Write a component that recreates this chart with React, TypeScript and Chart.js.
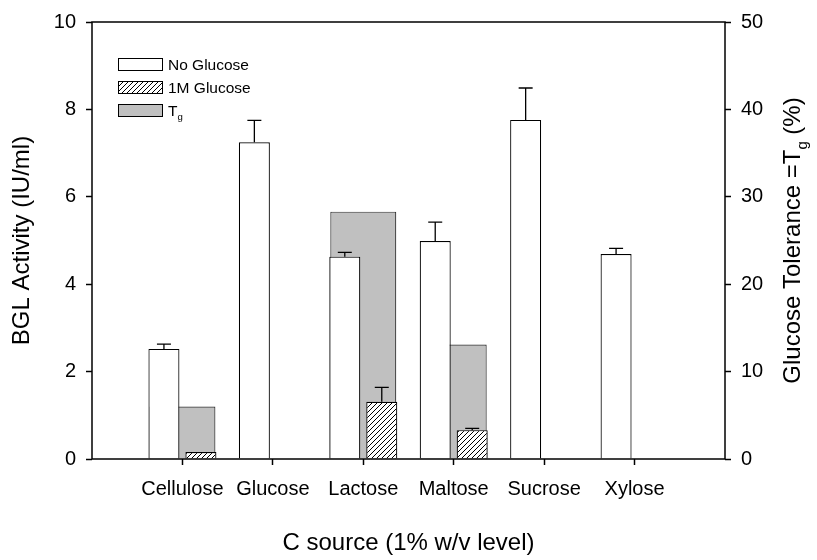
import React, { useEffect, useRef } from 'react';
import { Chart, registerables } from 'chart.js';

Chart.register(...registerables);

const categories = ['Cellulose', 'Glucose', 'Lactose', 'Maltose', 'Sucrose', 'Xylose'];
const noGlucose = [2.52, 7.25, 4.63, 4.99, 7.76, 4.69];
const noGlucoseErr = [0.11, 0.5, 0.1, 0.43, 0.73, 0.13];
const glucose1M = [0.16, null, 1.31, 0.66, null, null];
const glucose1MErr = [0, null, 0.33, 0.04, null, null];
const tg = [6.0, null, 28.3, 13.1, null, null];
const seriesNames = ['No Glucose', '1M Glucose', 'T_g'];
const leftTicks = [0, 2, 4, 6, 8, 10];
const rightTicks = [0, 10, 20, 30, 40, 50];
const xTitle = 'C source (1% w/v level)';
const leftTitle = 'BGL Activity (IU/ml)';
const rightTitle = 'Glucose Tolerance =T_g (%)';

const FONT = '"Liberation Sans", Arial, Helvetica, sans-serif';
const GRAY = '#c0c0c0';

const xLabels = ['', ...categories, ''];
const pad = (a: (number | null)[]) => [null, ...a, null];
const asPoints = (a: (number | null)[]) => a.map((v, i) => ({ x: i, y: v }));
const catIdx = categories.map((_, i) => ({ value: i }));

// side offset of the paired bars, in category units
const SHIFT = 0.2045;

function makeHatch(ctx: CanvasRenderingContext2D) {
  const s = 5;
  const c = document.createElement('canvas');
  c.width = s;
  c.height = s;
  const g = c.getContext('2d')!;
  g.fillStyle = '#fff';
  g.fillRect(0, 0, s, s);
  g.strokeStyle = '#000';
  g.lineWidth = 1;
  g.beginPath();
  g.moveTo(-1, s + 1);
  g.lineTo(s + 1, -1);
  g.moveTo(-1, 1);
  g.lineTo(1, -1);
  g.moveTo(s - 1, s + 1);
  g.lineTo(s + 1, s - 1);
  g.stroke();
  return ctx.createPattern(c, 'repeat')!;
}

function parts(text: string) {
  const out: { t: string; sub: boolean }[] = [];
  let buf = '';
  let i = 0;
  while (i < text.length) {
    if (text[i] === '_' && i + 1 < text.length) {
      if (buf) out.push({ t: buf, sub: false });
      buf = '';
      out.push({ t: text[i + 1], sub: true });
      i += 2;
    } else {
      buf += text[i];
      i++;
    }
  }
  if (buf) out.push({ t: buf, sub: false });
  return out;
}

function drawRich(ctx: CanvasRenderingContext2D, text: string, x: number, y: number, size: number, align: 'left' | 'center') {
  const ps = parts(text);
  const subSize = size * 0.62;
  const widths = ps.map((p) => {
    ctx.font = `${p.sub ? subSize : size}px ${FONT}`;
    return ctx.measureText(p.t).width;
  });
  const total = widths.reduce((s, w) => s + w, 0);
  let cx = align === 'center' ? x - total / 2 : x;
  ctx.textAlign = 'left';
  ctx.textBaseline = 'alphabetic';
  ctx.fillStyle = '#000';
  ps.forEach((p, i) => {
    ctx.font = `${p.sub ? subSize : size}px ${FONT}`;
    ctx.fillText(p.t, cx, p.sub ? y + size * 0.28 : y);
    cx += widths[i];
  });
}

export default function App() {
  const ref = useRef<HTMLCanvasElement>(null);

  useEffect(() => {
    const canvas = ref.current!;
    const ctx0 = canvas.getContext('2d')!;
    const hatch = makeHatch(ctx0);
    const fills = ['#fff', hatch, GRAY];

    const overlay = {
      id: 'overlay',
      afterDatasetsDraw(chart: any) {
        const { ctx, chartArea: a } = chart;
        ctx.save();
        ctx.strokeStyle = '#000';
        ctx.lineWidth = 1.3;
        const vals = [noGlucose, glucose1M];
        const errs = [noGlucoseErr, glucose1MErr];
        [0, 1].forEach((di) => {
          const meta = chart.getDatasetMeta(di);
          const ys = chart.scales[meta.yAxisID];
          errs[di].forEach((e, i) => {
            const v = vals[di][i];
            if (v == null || !e) return;
            const el = meta.data[i];
            const x = el.x;
            const y0 = el.y;
            const y1 = ys.getPixelForValue(v + e);
            ctx.beginPath();
            ctx.moveTo(x, y0);
            ctx.lineTo(x, y1);
            ctx.moveTo(x - 7, y1);
            ctx.lineTo(x + 7, y1);
            ctx.stroke();
          });
        });
        // frame
        ctx.lineWidth = 1.5;
        ctx.strokeRect(a.left, a.top, a.right - a.left, a.bottom - a.top);

        // legend
        const bx = a.left + 26;
        const bw = 44;
        const bh = 12;
        seriesNames.forEach((name, i) => {
          const top = a.top + 36 + i * 23;
          ctx.fillStyle = fills[i];
          ctx.fillRect(bx, top, bw, bh);
          ctx.lineWidth = 1;
          ctx.strokeStyle = '#000';
          ctx.strokeRect(bx + 0.5, top + 0.5, bw, bh);
          drawRich(ctx, name, bx + bw + 6, top + bh / 2 + 5.5, 15.5, 'left');
        });

        // right title
        ctx.save();
        ctx.translate(800, (a.top + a.bottom) / 2);
        ctx.rotate(-Math.PI / 2);
        drawRich(ctx, rightTitle, 0, 0, 24, 'center');
        ctx.restore();
        ctx.restore();
      },
    };

    const tickColor = (c: any) => (c.index === 0 || c.index === xLabels.length - 1 ? 'rgba(0,0,0,0)' : '#000');
    const setCatTicks = (s: any) => {
      s.ticks = catIdx.map((t) => ({ ...t }));
    };

    const chart = new Chart(canvas, {
      type: 'bar',
      data: {
        labels: xLabels,
        datasets: [
          {
            label: seriesNames[0],
            data: asPoints(noGlucose),
            backgroundColor: '#fff',
            borderColor: '#000',
            borderWidth: 1.2,
            xAxisID: 'xw',
            yAxisID: 'y',
            order: 0,
            grouped: false,
            categoryPercentage: 1,
            barPercentage: 0.343,
          },
          {
            label: seriesNames[1],
            data: asPoints(glucose1M),
            backgroundColor: hatch as any,
            borderColor: '#000',
            borderWidth: 1.2,
            xAxisID: 'xh',
            yAxisID: 'y',
            order: 1,
            grouped: false,
            categoryPercentage: 1,
            barPercentage: 0.343,
          },
          {
            label: seriesNames[2],
            data: pad(tg),
            backgroundColor: GRAY,
            borderColor: '#333',
            borderWidth: 1.2,
            xAxisID: 'x2',
            yAxisID: 'y2',
            order: 2,
            grouped: false,
            categoryPercentage: 0.73,
            barPercentage: 1,
          },
        ],
      } as any,
      options: {
        responsive: false,
        animation: false,
        layout: { padding: { top: 16, left: 0, right: 0, bottom: 0 } },
        plugins: { legend: { display: false }, tooltip: { enabled: false } },
        scales: {
          x: {
            type: 'category',
            labels: xLabels,
            offset: false,
            position: 'bottom',
            grid: { offset: false, drawOnChartArea: false, drawTicks: true, tickLength: 6, tickWidth: 1.5, color: tickColor },
            border: { display: false },
            ticks: { autoSkip: false, maxRotation: 0, minRotation: 0, padding: 12, color: '#000', font: { family: FONT, size: 20 } },
            title: { display: true, text: xTitle, color: '#000', font: { family: FONT, size: 24 }, padding: { top: 0, bottom: 2 } },
            afterFit: (s: any) => {
              s.height = 101;
            },
          },
          x2: {
            type: 'category',
            labels: xLabels,
            offset: false,
            display: false,
            grid: { offset: false },
          },
          xw: {
            type: 'linear',
            position: 'bottom',
            min: -1 + SHIFT,
            max: categories.length + SHIFT,
            offset: false,
            display: false,
            afterBuildTicks: setCatTicks,
          },
          xh: {
            type: 'linear',
            position: 'bottom',
            min: -1 - SHIFT,
            max: categories.length - SHIFT,
            offset: false,
            display: false,
            afterBuildTicks: setCatTicks,
          },
          y: {
            type: 'linear',
            position: 'left',
            min: 0,
            max: 10,
            afterBuildTicks: (s: any) => {
              s.ticks = leftTicks.map((v) => ({ value: v }));
            },
            grid: { drawOnChartArea: false, tickLength: 6, tickWidth: 1.5, color: '#000' },
            border: { display: false },
            ticks: { padding: 10, color: '#000', font: { family: FONT, size: 20 } },
            title: { display: true, text: leftTitle, color: '#000', font: { family: FONT, size: 24 }, padding: { top: 8, bottom: 0 } },
            afterFit: (s: any) => {
              s.width = 92;
            },
          },
          y2: {
            type: 'linear',
            position: 'right',
            min: 0,
            max: 50,
            afterBuildTicks: (s: any) => {
              s.ticks = rightTicks.map((v) => ({ value: v }));
            },
            grid: { drawOnChartArea: false, tickLength: 6, tickWidth: 1.5, color: '#000' },
            border: { display: false },
            ticks: { padding: 10, color: '#000', font: { family: FONT, size: 20 } },
            afterFit: (s: any) => {
              s.width = 92;
            },
          },
        },
      } as any,
      plugins: [overlay],
    });
    return () => chart.destroy();
  }, []);

  return (
    <div style={{ position: 'fixed', left: 0, top: 0, width: 817, height: 560, background: '#fff' }}>
      <canvas ref={ref} width={817} height={560} style={{ display: 'block' }} />
    </div>
  );
}
